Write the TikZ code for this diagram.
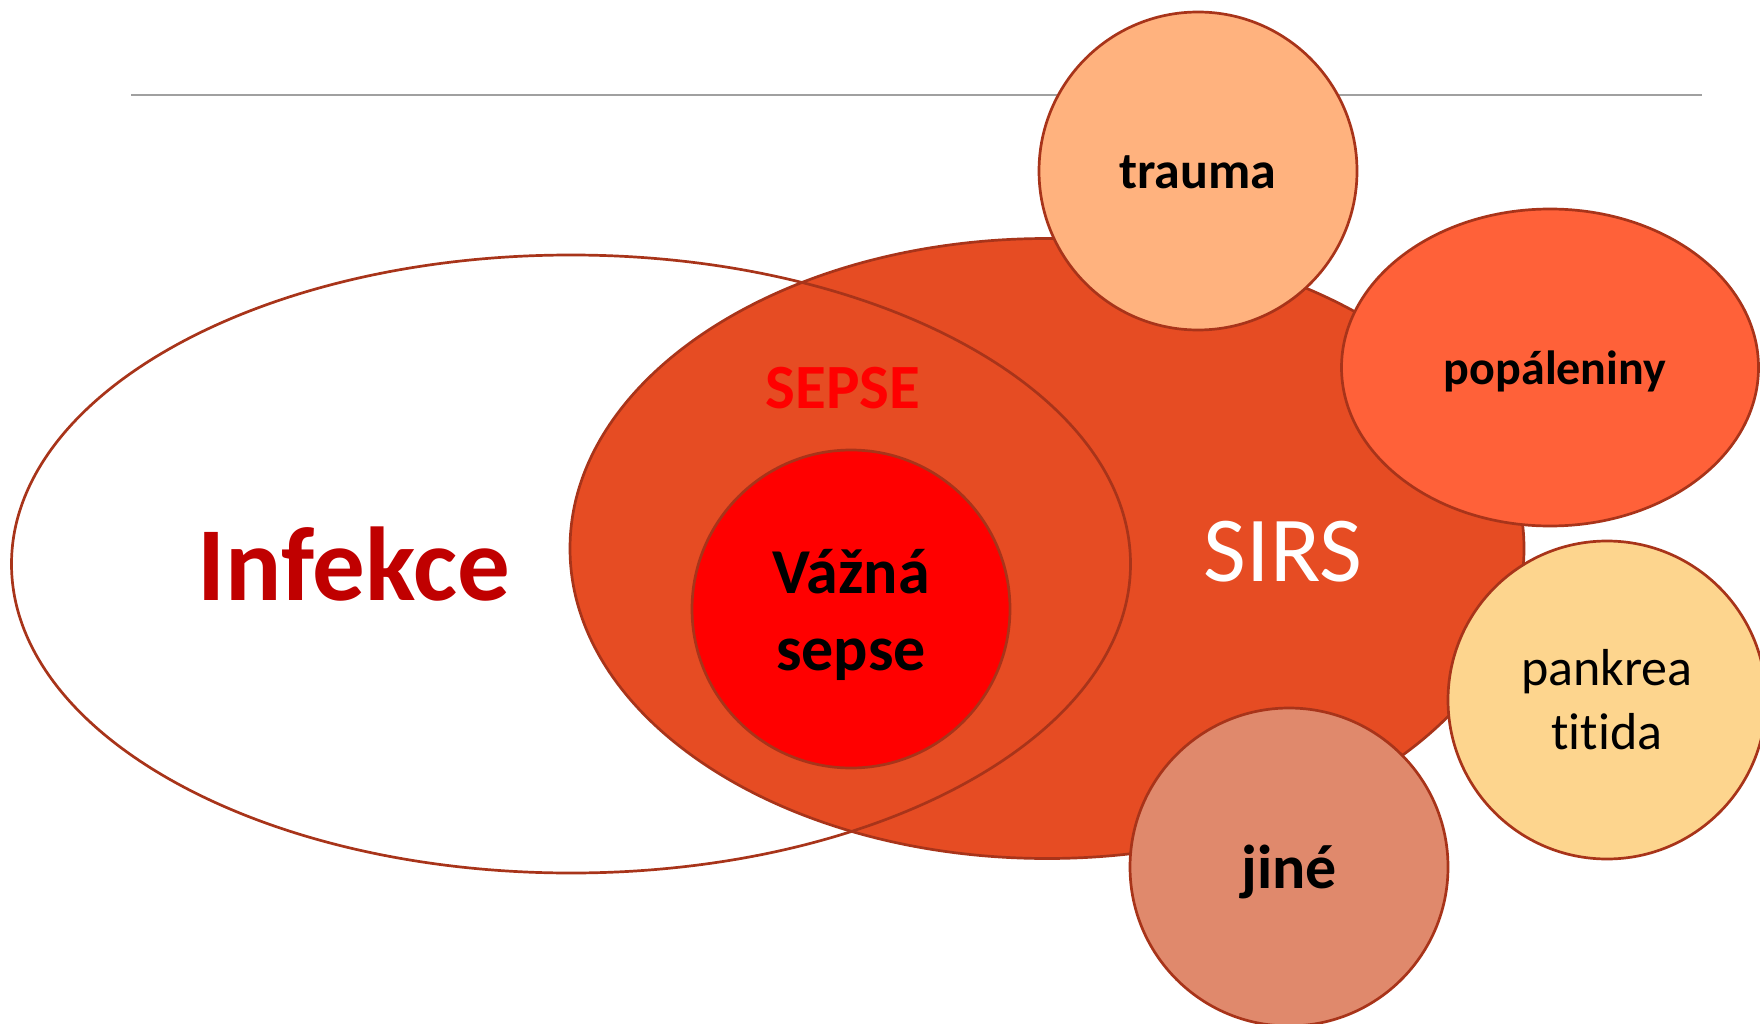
\documentclass[tikz,border=0pt]{standalone}
\usepackage{fontspec}
\setmainfont{Carlito}[Ligatures=NoCommon]
\usetikzlibrary{shapes.geometric}
\definecolor{edgec}{HTML}{A8341A}
\definecolor{sirsc}{HTML}{E64C23}
\definecolor{traumac}{HTML}{FFB27E}
\definecolor{popc}{HTML}{FF6139}
\definecolor{pankc}{HTML}{FDD58E}
\definecolor{jinec}{HTML}{E0896C}
\definecolor{vaznac}{HTML}{FF0000}
\definecolor{infc}{HTML}{C00000}
\definecolor{rulec}{HTML}{A0A0A0}
\tikzset{
  blob/.style={draw=edgec, line width=2.7pt, inner sep=0pt, outer sep=0pt},
  roundblob/.style={blob, circle, minimum size=#1},
  ovalblob/.style={blob, ellipse},
  lbl/.style={anchor=base, inner sep=0pt, text=black},
}
\newcommand{\fs}[1]{\fontsize{#1}{#1}\selectfont}
\begin{document}
\begin{tikzpicture}[x=1pt,y=-1pt]
\useasboundingbox (0,0) rectangle (1760,1024);
\clip (0,0) rectangle (1760,1024);
% rule
\coordinate (rl) at (131,95.5);
\coordinate (rr) at (1702,95.5);
\draw[rulec, line width=2pt] (rl) -- (rr);
% SIRS
\node[ovalblob, fill=sirsc, minimum width=954, minimum height=620] (sirs) at (1047,548.5) {};
% Infekce outline on top
\node[ovalblob, minimum width=1119, minimum height=618] (infekce) at (571,564) {};
% Vazna sepse
\node[roundblob=318, fill=vaznac] (vazna) at (851,609) {};
% outer circles
\node[roundblob=318, fill=traumac] (trauma) at (1198,171) {};
\node[ovalblob, fill=popc, minimum width=417, minimum height=317] (pop) at (1550,367.5) {};
\node[roundblob=318, fill=pankc] (pank) at (1607,700) {};
\node[roundblob=318, fill=jinec] (jine) at (1289,867) {};
% texts
\node[lbl, text=infc] (tinf) at (354,600) {\fs{105}\bfseries Infekce};
\node[lbl, text=vaznac] (tsepse) at (843,408) {\fs{63}\bfseries SEPSE};
\node[lbl] (tvaz1) at (851,593) {\fs{64}\bfseries Vážná};
\node[lbl] (tvaz2) at (851,670) {\fs{64}\bfseries sepse};
\node[lbl, text=white] (tsirs) at (1283,581) {\fs{93}SIRS};
\node[lbl] (ttrauma) at (1198,189) {\fs{52}\bfseries trauma};
\node[lbl] (tpop) at (1555,384) {\fs{48}\bfseries popáleniny};
\node[lbl] (tpank1) at (1607,685) {\fs{52}pankrea};
\node[lbl] (tpank2) at (1607,749) {\fs{52}titida};
\node[lbl] (tjine) at (1289,888) {\fs{62}\bfseries jiné};
\end{tikzpicture}
\end{document}
